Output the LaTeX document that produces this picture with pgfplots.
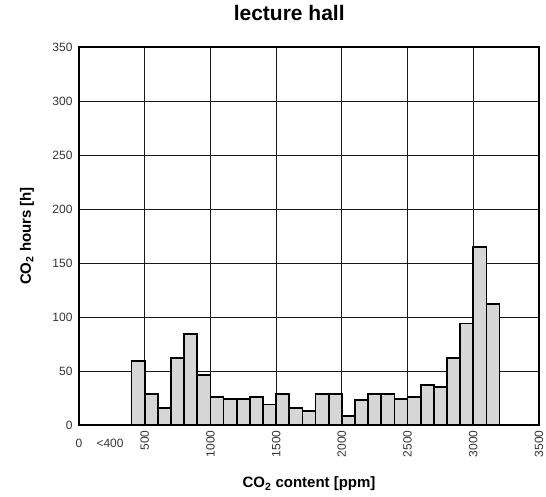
\documentclass[border=0pt]{standalone}
\usepackage{pgfplots}
\pgfplotsset{compat=1.18}
\usepackage{fontspec}
\setmainfont{Liberation Sans}
\begin{document}
\begin{tikzpicture}
\useasboundingbox (-79pt,-72pt) rectangle (467pt,425pt);
\begin{axis}[
 at={(0,0)}, anchor=south west,
 scale only axis, width=460pt, height=378pt,
 xmin=0, xmax=3500, ymin=0, ymax=350,
 xtick={500,1000,...,3500},
 ytick={0,50,...,350},
 grid=major,
 major grid style={black!90, line width=0.9pt},
 axis line style={black, line width=2pt},
 major tick length=0pt,
 /pgf/number format/assume math mode=true,
 /pgf/number format/1000 sep={},
 tick label style={font=\fontsize{12}{14}\selectfont, text=black!80},
 xticklabel style={rotate=90, anchor=east, xshift=-2pt},
 yticklabel style={xshift=-3pt},
 extra x ticks={0,236},
 extra x tick labels={0,<400},
 extra x tick style={xmajorgrids=false, xticklabel style={rotate=-90, anchor=north, yshift=-9pt}},
 title={lecture hall},
 title style={font=\bfseries\fontsize{21}{25}\selectfont, at={(0.457,1)}, anchor=base, yshift=20pt},
 xlabel={CO\textsubscript{2} content [ppm]},
 ylabel={CO\textsubscript{2} hours [h]},
 label style={font=\bfseries\fontsize{15}{18}\selectfont},
 xlabel style={at={(axis description cs:0.5,-0.156)}, anchor=center},
 ylabel style={at={(axis description cs:-0.113,0.5)}, anchor=center},
]
\addplot[ybar interval, fill=black!16, draw=black, line width=1.8pt] coordinates {
(400,59) (500,29) (600,16) (700,62) (800,84) (900,46) (1000,26) (1100,24)
(1200,24) (1300,26) (1400,19) (1500,29) (1600,16) (1700,13) (1800,29) (1900,29)
(2000,8) (2100,23) (2200,29) (2300,29) (2400,24) (2500,26) (2600,37) (2700,35)
(2800,62) (2900,94) (3000,165) (3100,112) (3200,0)
};
\end{axis}
\end{tikzpicture}
\end{document}
